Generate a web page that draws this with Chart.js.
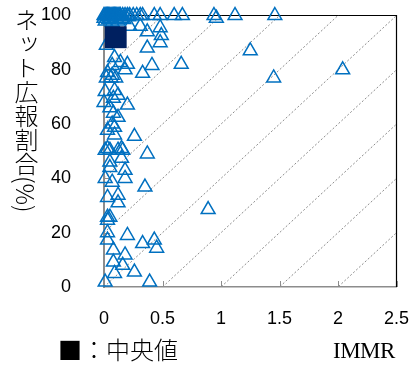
<!DOCTYPE html>
<html lang="ja">
<head>
<meta charset="UTF-8">
<title>ネット広報割合 vs IMMR</title>
<script src="https://cdn.jsdelivr.net/npm/chart.js@4.4.0/dist/chart.umd.min.js"></script>
<style>
body{margin:0;background:#fff;}
.wrap{position:relative;width:412px;height:365px;}
.ytitle{position:absolute;left:14px;top:8px;writing-mode:vertical-rl;font-family:"Noto Sans CJK JP";font-weight:300;font-size:24px;line-height:1;color:#000;}
.note{position:absolute;left:58px;top:337px;font-family:"Noto Sans CJK JP";font-weight:300;font-size:24px;line-height:1;color:#000;}
.xtitle{position:absolute;left:333px;top:339px;font-family:"Liberation Serif";font-size:23px;letter-spacing:-0.5px;line-height:1;color:#000;}
</style>
</head>
<body>
<div class="wrap">
  <canvas id="chart"></canvas>
  <div class="ytitle">ネット広報割合(%)</div>
  <div class="note">■：中央値</div>
  <div class="xtitle">IMMR</div>
</div>
<script>
// each prefecture: IMMR (x) and net publicity ratio % (y)
const immr = [
  0, 0.01, 0.02, 0.03, 0.04, 0.05, 0.06, 0.07, 0.08, 0.09, 0.10, 0.11, 0.12, 0.13, 0.14, 0.16, 0.18, 0.20, 0.22, 0.25,
  0.28, 0.31, 0.33, 0.43, 0.48, 0.60, 0.67, 0.94, 1.12, 1.46,
  0.01, 0.04, 0.07, 0.12, 0.17, 0.96, 0.0, 0.03, 0.06, 0.10, 0.15, 0.21,
  0.22, 0.31, 0.37, 0.48, 0.49, 0.37, 0.48, 1.25, 0.02,
  0.09, 0.07, 0.14, 0.20, 0.18, 0.03, 0.07, 0.33, 0.41, 0.66, 1.45, 2.04,
  0.02, 0.06, 0.10,
  0.01, 0.09, 0.12, 0.08, 0.00, 0.20, 0.05, 0.08, 0.12, 0.07, 0.09, 0.03, 0.09, 0.26,
  0.03, 0.15, 0.01, 0.05, 0.12, 0.16, 0.37, 0.05, 0.15, 0.05, 0.18, 0.01, 0.07, 0.18, 0.35,
  0.03, 0.12, 0.12, 0.89, 0.03, 0.05, 0.03,
  0.03, 0.03, 0.20, 0.33, 0.43, 0.45, 0.08, 0.18, 0.08, 0.16, 0.26, 0.09, 0.01, 0.39
];
const netRatio = [
  100, 100, 100, 100, 100, 100, 100, 100, 100, 100, 100, 100, 100, 100, 100, 100, 100, 100, 100, 100,
  100, 100, 100, 100, 100, 100, 100, 100, 100, 100,
  98, 98.5, 97.5, 98, 98.5, 99, 99, 99.5, 99, 99.5, 99, 99.5,
  96, 96, 94, 95.5, 92.6, 88, 90, 87, 89,
  84.5, 81.6, 82.7, 82, 80, 79, 78, 78.7, 81.6, 82, 77, 80,
  77, 77, 77,
  72, 72.4, 70.6, 69.5, 68, 67, 66, 64, 62.5, 60, 58.8, 57.7, 56, 55.5,
  51, 51, 50.4, 50.4, 50.4, 50.4, 49, 46, 47.4, 44, 43, 40, 38.6, 40, 36.8,
  33, 33.8, 31, 28.5, 25.7, 25.7, 24.6,
  20, 17.3, 19, 16, 17.3, 14.3, 13.6, 11.8, 9.2, 8, 5.5, 5, 1.8, 1.8
];
const medianImmr = 0.10;
const medianRatio = 92;

// dotted guide lines: y = 40 * x + offset
const guideSlope = 40;
const guideOffsets = [-80, -60, -40, -20, 0, 20, 40, 60, 80];

const xTicks = [0, 0.5, 1, 1.5, 2, 2.5];
const yTicks = [0, 20, 40, 60, 80, 100];

const points = immr.map((x, i) => ({ x: x, y: netRatio[i] }));

const guideSets = guideOffsets.map(c => ({
  type: 'line',
  data: [{ x: 0, y: c }, { x: 2.5, y: guideSlope * 2.5 + c }],
  borderColor: '#8c8c8c',
  borderWidth: 1,
  borderDash: [2, 2],
  pointRadius: 0,
  order: 3
}));

const frame = {
  id: 'frame',
  beforeDatasetsDraw(chart) {
    const { ctx, chartArea: a, scales } = chart;
    ctx.save();
    ctx.strokeStyle = '#000';
    ctx.lineWidth = 1.2;
    ctx.beginPath();
    ctx.moveTo(a.left, a.top);
    ctx.lineTo(a.right, a.top);
    ctx.lineTo(a.right, a.bottom);
    ctx.stroke();
    // small inward tick marks
    ctx.strokeStyle = '#8c8c8c';
    ctx.lineWidth = 1;
    ctx.beginPath();
    for (const t of xTicks.slice(1)) {
      const px = Math.round(scales.x.getPixelForValue(t)) + 0.5;
      ctx.moveTo(px, a.bottom);
      ctx.lineTo(px, a.bottom - 6);
    }
    for (const t of yTicks.slice(1)) {
      const py = Math.round(scales.y.getPixelForValue(t)) + 0.5;
      ctx.moveTo(a.left, py);
      ctx.lineTo(a.left + 6, py);
    }
    ctx.stroke();
    ctx.restore();
  }
};

new Chart(document.getElementById('chart'), {
  type: 'scatter',
  data: {
    datasets: [
      {
        data: [{ x: medianImmr, y: medianRatio }],
        pointStyle: 'rect',
        radius: 15.5,
        backgroundColor: '#002060',
        borderColor: '#002060',
        borderWidth: 0,
        clip: false,
        order: 0
      },
      {
        data: points,
        pointStyle: 'triangle',
        radius: 8,
        borderColor: '#0070C0',
        borderWidth: 1.5,
        backgroundColor: 'rgba(0,0,0,0)',
        clip: false,
        order: 1
      },
      ...guideSets
    ]
  },
  options: {
    responsive: true,
    maintainAspectRatio: false,
    animation: false,
    events: [],
    layout: { padding: { top: 15, right: 15, left: 0, bottom: 0 } },
    plugins: { legend: { display: false }, tooltip: { enabled: false } },
    scales: {
      x: {
        type: 'linear',
        min: 0,
        max: 2.5,
        afterBuildTicks: s => { s.ticks = xTicks.map(v => ({ value: v })); },
        afterFit: s => { s.height = 78; s.paddingLeft = 0; s.paddingRight = 0; },
        grid: { display: false },
        border: { color: '#8c8c8c', width: 1.5 },
        ticks: {
          color: '#000', padding: 13, maxRotation: 0,
          font: { family: 'Liberation Sans', size: 18 },
          callback: v => String(v)
        }
      },
      y: {
        type: 'linear',
        min: 0,
        max: 100,
        afterBuildTicks: s => { s.ticks = yTicks.map(v => ({ value: v })); },
        afterFit: s => { s.width = 104; s.paddingTop = 0; s.paddingBottom = 0; },
        grid: { display: false },
        border: { color: '#8c8c8c', width: 2 },
        ticks: { color: '#000', padding: 25, font: { family: 'Liberation Sans', size: 18 }, callback: v => String(v) }
      }
    }
  },
  plugins: [frame]
});
</script>
</body>
</html>
